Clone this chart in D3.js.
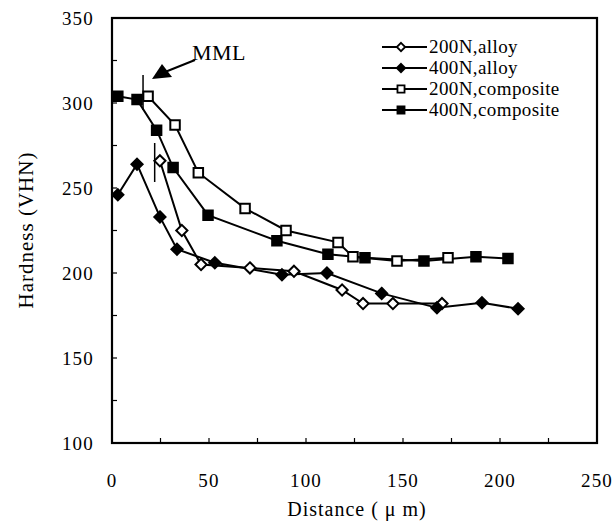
<!DOCTYPE html>
<html>
<head>
<meta charset="utf-8">
<script src="https://cdnjs.cloudflare.com/ajax/libs/d3/7.8.5/d3.min.js"></script>
<style>
  body { margin: 0; background: #fff; }
  text { font-family: "Liberation Serif", "Times New Roman", serif; fill: #000; }
</style>
</head>
<body>
<div id="chart"></div>
<script>
// data
var seriesNames = ["200N,alloy", "400N,alloy", "200N,composite", "400N,composite"];

var alloy200X = [24.7, 36, 45.9, 71.1, 93.8, 118.6, 129.4, 144.8, 170.1];
var alloy200Y = [266, 225, 205, 203, 201, 190, 182, 182, 182];

var alloy400X = [3, 12.9, 24.7, 33.5, 53, 87.6, 110.8, 139, 167.5, 190.7, 209.3];
var alloy400Y = [246, 264, 233, 214, 206, 199, 200, 188, 179.5, 182.5, 179];

var comp200X = [18.6, 32.5, 44.5, 68.6, 89.7, 116.5, 124.2, 146.9, 173.2];
var comp200Y = [304, 287, 259, 238, 225, 218, 209.5, 207, 209];

var comp400X = [3, 12.9, 23, 31.5, 49.5, 85, 111.3, 130.4, 160.8, 187.6, 204.1];
var comp400Y = [304, 302, 284, 262, 234, 219, 211, 209, 207, 209.5, 208.5];

var xTicks = [0, 50, 100, 150, 200, 250];
var yTicks = [100, 150, 200, 250, 300, 350];

var width = 614, height = 531;
var plotL = 112, plotR = 597, plotT = 18, plotB = 443;

var svg = d3.select("#chart").append("svg")
  .attr("width", width)
  .attr("height", height);

var x = d3.scaleLinear().domain([0, 250]).range([plotL, plotR]);
var y = d3.scaleLinear().domain([100, 350]).range([plotB, plotT]);

// minor inward ticks every 25
var minorX = d3.range(25, 250, 25);
var minorY = d3.range(125, 350, 25);

svg.selectAll(".xt").data(minorX).enter().append("line")
  .attr("x1", function(d) { return x(d); })
  .attr("x2", function(d) { return x(d); })
  .attr("y1", plotB).attr("y2", plotB - 5)
  .attr("stroke", "#000").attr("stroke-width", 1.2);

svg.selectAll(".yt").data(minorY).enter().append("line")
  .attr("x1", plotL).attr("x2", plotL + 5)
  .attr("y1", function(d) { return y(d); })
  .attr("y2", function(d) { return y(d); })
  .attr("stroke", "#000").attr("stroke-width", 1.2);

// frame
svg.append("rect")
  .attr("x", plotL).attr("y", plotT)
  .attr("width", plotR - plotL).attr("height", plotB - plotT)
  .attr("fill", "none").attr("stroke", "#000").attr("stroke-width", 2.2);

// tick labels
svg.selectAll(".xl").data(xTicks).enter().append("text")
  .attr("x", function(d) { return x(d); })
  .attr("y", plotB + 44)
  .attr("text-anchor", "middle")
  .attr("font-size", 19)
  .attr("letter-spacing", 1.2)
  .text(function(d) { return d; });

svg.selectAll(".yl").data(yTicks).enter().append("text")
  .attr("x", plotL - 18)
  .attr("y", function(d) { return y(d) + 7; })
  .attr("text-anchor", "end")
  .attr("font-size", 19)
  .attr("letter-spacing", 1.2)
  .text(function(d) { return d; });

// axis titles
svg.append("text")
  .attr("x", 357)
  .attr("y", 516)
  .attr("text-anchor", "middle")
  .attr("font-size", 20)
  .attr("letter-spacing", 1)
  .text("Distance ( \u03bc m)");

svg.append("text")
  .attr("transform", "translate(33,230)rotate(-90)")
  .attr("text-anchor", "middle")
  .attr("font-size", 21)
  .attr("letter-spacing", 1)
  .text("Hardness (VHN)");

// marker generators
var diamond = d3.symbol().type(d3.symbolDiamond2).size(80);
var square = d3.symbol().type(d3.symbolSquare).size(90);
var diamondSmall = d3.symbol().type(d3.symbolDiamond2).size(45);
var squareSmall = d3.symbol().type(d3.symbolSquare).size(50);

function pairs(xs, ys) {
  return xs.map(function(d, i) { return [d, ys[i]]; });
}

var series = [
  { name: seriesNames[0], data: pairs(alloy200X, alloy200Y), sym: diamond, legSym: diamondSmall, fill: "#fff" },
  { name: seriesNames[1], data: pairs(alloy400X, alloy400Y), sym: diamond, legSym: diamondSmall, fill: "#000" },
  { name: seriesNames[2], data: pairs(comp200X, comp200Y), sym: square, legSym: squareSmall, fill: "#fff" },
  { name: seriesNames[3], data: pairs(comp400X, comp400Y), sym: square, legSym: squareSmall, fill: "#000" }
];

var line = d3.line()
  .x(function(d) { return x(d[0]); })
  .y(function(d) { return y(d[1]); });

series.forEach(function(s) {
  svg.append("path")
    .attr("d", line(s.data))
    .attr("fill", "none")
    .attr("stroke", "#000")
    .attr("stroke-width", 2);
});

series.forEach(function(s) {
  svg.selectAll(null).data(s.data).enter().append("path")
    .attr("d", s.sym)
    .attr("transform", function(d) {
      return "translate(" + x(d[0]) + "," + y(d[1]) + ")";
    })
    .attr("fill", s.fill)
    .attr("stroke", "#000")
    .attr("stroke-width", 2);
});

// legend
var legend = svg.append("g").attr("transform", "translate(382,47)");
series.forEach(function(s, i) {
  var g = legend.append("g").attr("transform", "translate(0," + (i * 21) + ")");
  g.append("line")
    .attr("x1", 0).attr("x2", 45)
    .attr("y1", 0).attr("y2", 0)
    .attr("stroke", "#000").attr("stroke-width", 2);
  g.append("path")
    .attr("d", s.legSym())
    .attr("transform", "translate(19,0)")
    .attr("fill", s.fill)
    .attr("stroke", "#000")
    .attr("stroke-width", 1.8);
  g.append("text")
    .attr("x", 47).attr("y", 6)
    .attr("font-size", 19)
    .attr("letter-spacing", 0.4)
    .text(s.name);
});

// MML annotation
svg.append("text")
  .attr("x", 192).attr("y", 60)
  .attr("font-size", 22)
  .attr("letter-spacing", 0.5)
  .text("MML");

svg.append("line")
  .attr("x1", 195).attr("y1", 60)
  .attr("x2", 165).attr("y2", 72)
  .attr("stroke", "#000").attr("stroke-width", 2);
svg.append("path")
  .attr("d", "M152,79 L162,64 L172,77 Z")
  .attr("fill", "#000");

svg.append("line")
  .attr("x1", x(16)).attr("x2", x(16))
  .attr("y1", 75).attr("y2", 110)
  .attr("stroke", "#000").attr("stroke-width", 1.5);
svg.append("line")
  .attr("x1", x(22)).attr("x2", x(22))
  .attr("y1", 143).attr("y2", 182)
  .attr("stroke", "#000").attr("stroke-width", 1.5);
</script>
</body>
</html>
